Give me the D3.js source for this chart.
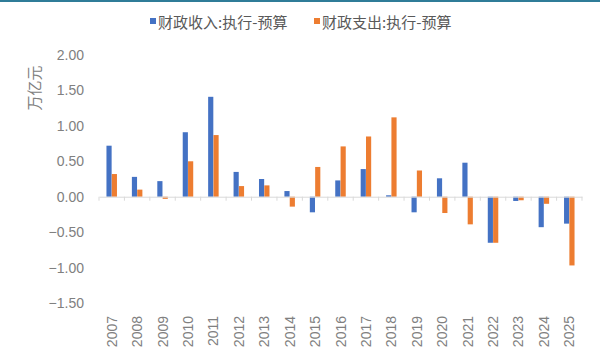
<!DOCTYPE html>
<html><head><meta charset="utf-8">
<script src="https://cdn.jsdelivr.net/npm/d3@7"></script>
<style>body{margin:0;background:#fff;}svg{display:block;font-family:"Noto Sans CJK SC","Liberation Sans",sans-serif;}</style>
</head><body>
<svg id="c" width="600" height="355"></svg>
<script>
const years = ["2007","2008","2009","2010","2011","2012","2013","2014","2015","2016","2017","2018","2019","2020","2021","2022","2023","2024","2025"];
const revenue = [0.72,0.28,0.22,0.91,1.41,0.35,0.25,0.08,-0.22,0.23,0.39,0.02,-0.22,0.26,0.48,-0.65,-0.06,-0.43,-0.38];
const spending = [0.32,0.10,-0.03,0.50,0.87,0.15,0.16,-0.14,0.42,0.71,0.85,1.12,0.37,-0.23,-0.39,-0.65,-0.05,-0.10,-0.97];
const seriesNames = ["财政收入:执行-预算","财政支出:执行-预算"];
const colors = ["#4472C4","#ED7D31"];
const yTicks = [2.0,1.5,1.0,0.5,0.0,-0.5,-1.0,-1.5];
const yLabel = "万亿元";

const svg = d3.select("#c");
svg.append("rect").attr("x",0).attr("y",0).attr("width",600).attr("height",2).attr("fill","#2f7c98");

const x = d3.scaleBand().domain(years).range([99,582]).paddingInner(0).paddingOuter(0);
const y = d3.scaleLinear().domain([-1.5,2.0]).range([303,55]);
const sub = d3.scaleBand().domain([0,1]).range([0,x.bandwidth()]).paddingInner(0.03).paddingOuter(1.4);

// y axis labels
const yAxis = d3.axisLeft(y).tickValues(yTicks).tickFormat(d3.format(".2f")).tickSize(0).tickPadding(0);
const ga = svg.append("g").attr("transform","translate(84,0)").call(yAxis);
ga.select(".domain").remove();
ga.selectAll("text").attr("fill","#808080").style("font-family","Liberation Sans, Arial, sans-serif").style("font-size","14px");

svg.append("text").attr("transform","translate(33,88) rotate(-90)")
  .attr("text-anchor","middle").attr("dominant-baseline","central")
  .attr("fill","#808080").style("font-size","15px").text(yLabel);

// bars
const data = years.map((yr,i)=>({yr, vals:[revenue[i],spending[i]]}));
const g = svg.append("g");
data.forEach(d=>{
  d.vals.forEach((v,k)=>{
    g.append("rect")
      .attr("x", x(d.yr)+sub(k))
      .attr("width", sub.bandwidth())
      .attr("y", y(Math.max(0,v)))
      .attr("height", Math.abs(y(v)-y(0)))
      .attr("fill", colors[k]);
  });
});

// zero axis with ticks
const xAxis = d3.axisBottom(x).tickSize(0).tickFormat("");
const gx = svg.append("g").attr("transform",`translate(0,${y(0)})`).call(xAxis);
gx.select(".domain").attr("stroke","#d9d9d9").attr("stroke-width",1);
const bounds = years.map(d=>x(d)).concat([x.range()[1]]);
gx.selectAll(".bt").data(bounds).enter().append("line")
  .attr("x1",d=>d).attr("x2",d=>d).attr("y1",0).attr("y2",4).attr("stroke","#d9d9d9");

// x labels
svg.append("g").selectAll("text").data(years).enter().append("text")
  .attr("transform",d=>`translate(${x(d)+x.bandwidth()/2},316) rotate(-90)`)
  .attr("text-anchor","end").attr("dominant-baseline","central")
  .attr("fill","#808080").style("font-family","Liberation Sans, Arial, sans-serif").style("font-size","14px")
  .text(d=>d);

// legend
const leg = svg.append("g");
const legX = [150,314];
seriesNames.forEach((n,k)=>{
  leg.append("rect").attr("x",legX[k]).attr("y",18).attr("width",6).attr("height",6).attr("fill",colors[k]);
  leg.append("text").attr("x",legX[k]+8).attr("y",21).attr("dominant-baseline","central")
    .attr("fill","#595959").style("font-size","15px").text(n);
});
</script>
</body></html>
